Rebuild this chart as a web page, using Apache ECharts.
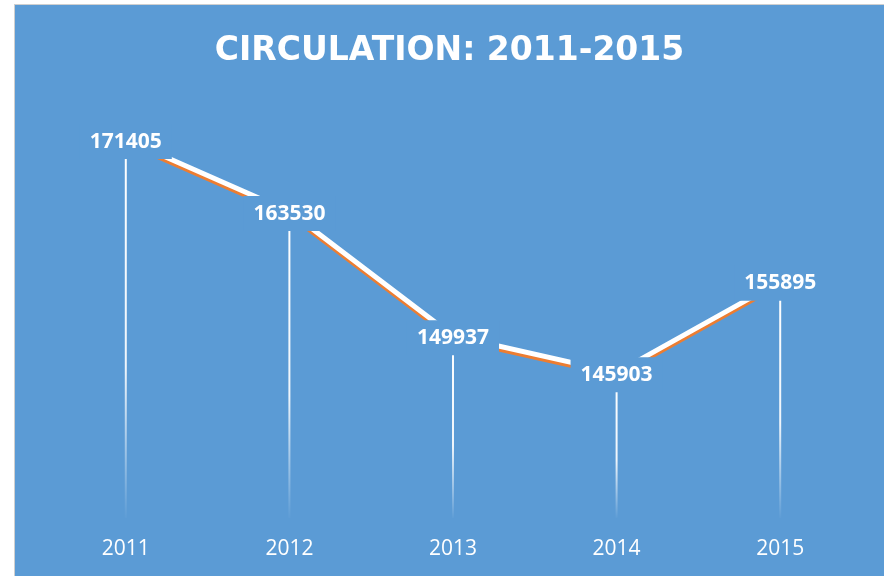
<!DOCTYPE html>
<html>
<head>
<meta charset="utf-8">
<script src="https://cdn.jsdelivr.net/npm/echarts@6/dist/echarts.min.js"></script>
<style>
  html,body{margin:0;padding:0;background:#fff;}
  .wrap{position:absolute;left:14px;top:4px;border-left:1px solid #cfcfcf;border-top:1px solid #cfcfcf;}
  .demo{width:869px;height:571px;}
</style>
</head>
<body>
<div class="wrap"><div class="demo"></div></div>
<script>
const years = ['2011', '2012', '2013', '2014', '2015']
const circulation = [171405, 163530, 149937, 145903, 155895]

;(function(){
  const chartinstance = echarts.init(document.querySelector('.demo'))
  const bg = '#5b9bd5'
  const font = '"Open Sans", sans-serif'
  const option = {
    backgroundColor: bg,
    title:{
      text:'CIRCULATION: 2011-2015',
      left:'center',
      top:25,
      textStyle:{
        color:'#fff',
        fontFamily:'"DejaVu Sans", sans-serif',
        fontWeight:'bold',
        fontSize:33
      }
    },
    grid:{
      left:29,
      right:22,
      top:56,
      bottom:58
    },
    xAxis: {
      type: 'category',
      data: years,
      axisLine:{show:false},
      axisTick:{show:false},
      axisLabel:{
        color:'#fff',
        fontFamily:font,
        fontSize:21,
        margin:21
      }
    },
    yAxis: {
      type: 'value',
      min:130000,
      max:180000,
      show:false
    },
    series: [
      {
        // drop lines
        type:'bar',
        data:circulation,
        barWidth:2,
        silent:true,
        itemStyle:{
          color:new echarts.graphic.LinearGradient(0,0,0,1,[
            {offset:0,color:'rgba(255,255,255,1)'},
            {offset:0.6,color:'rgba(255,255,255,0.9)'},
            {offset:1,color:'rgba(255,255,255,0.02)'}
          ])
        },
        z:1
      },
      {
        name:'Circulation',
        type: 'line',
        data:circulation,
        symbol:'circle',
        symbolSize:1,
        showSymbol:true,
        itemStyle:{color:'rgba(0,0,0,0)'},
        lineStyle:{
          color:'#fff',
          width:5,
          shadowColor:'#ed7d31',
          shadowBlur:0,
          shadowOffsetY:3
        },
        label:{
          show:true,
          position:'inside',
          offset:[0,2],
          color:'#fff',
          fontFamily:font,
          fontWeight:'bold',
          fontSize:21,
          backgroundColor:bg,
          padding:[5,10,9,10]
        },
        z:3
      }
    ]
  }
  option && chartinstance.setOption(option)
  window.addEventListener('resize',()=>{
    chartinstance.resize();
  })
})();
</script>
</body>
</html>
